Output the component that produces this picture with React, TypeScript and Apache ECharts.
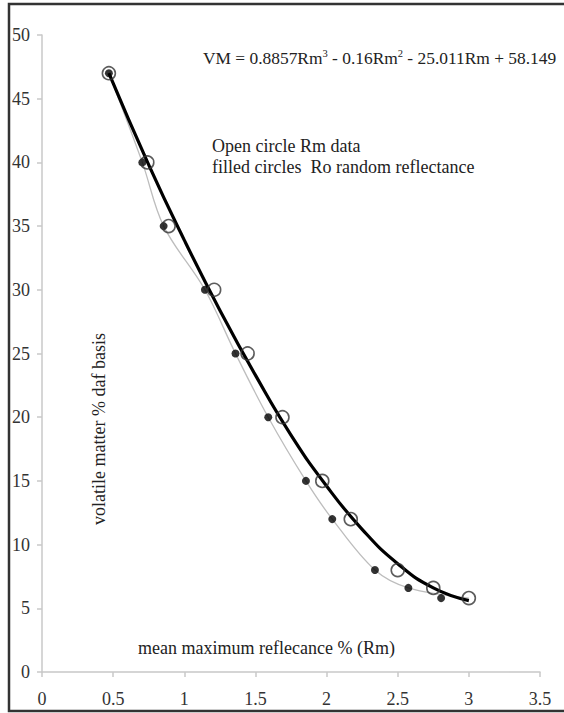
import React, { useEffect, useRef } from "react";
import * as echarts from "echarts";

// Open circles: Rm data (mean maximum reflectance)
const rmX = [0.47, 0.74, 0.89, 1.21, 1.445, 1.69, 1.97, 2.17, 2.5, 2.75, 3.0];
const rmY = [47, 40, 35, 30, 25, 20, 15, 12, 8, 6.6, 5.8];
// Filled circles: Ro random reflectance
const roX = [0.47, 0.705, 0.855, 1.145, 1.36, 1.59, 1.855, 2.04, 2.34, 2.575, 2.805];
const roY = [47, 40, 35, 30, 25, 20, 15, 12, 8, 6.6, 5.8];
// Thin grey smoothed line
const greyX = [0.47, 0.705, 0.855, 1.145, 1.36, 1.59, 1.855, 2.04, 2.34, 2.575, 3.0];
const greyY = [47, 40, 35, 30, 25, 20, 15, 12, 8, 6.6, 5.8];
// Thick black trend curve
const trendX = [0.47, 0.75, 1.0, 1.25, 1.5, 1.75, 2.0, 2.25, 2.5, 2.75, 3.0];
const trendY = [47, 39.8, 33.9, 28.4, 23.3, 18.6, 14.6, 11.2, 8.5, 6.6, 5.6];

const xTicks = ["0", "0.5", "1", "1.5", "2", "2.5", "3", "3.5"];

const FONT = "'Liberation Serif', 'Times New Roman', serif";
const FS = 18;

const zip = (xs: number[], ys: number[]) => xs.map((x, i) => [x, ys[i]]);

export default function App() {
  const ref = useRef<HTMLDivElement>(null);
  useEffect(() => {
    if (!ref.current) return;
    const chart = echarts.init(ref.current, undefined, { renderer: "svg" });
    chart.setOption({
      animation: false,
      backgroundColor: "#ffffff",
      grid: { left: 42, right: 24, top: 35, bottom: 41 },
      xAxis: {
        type: "value",
        min: 0,
        max: 3.5,
        interval: 0.5,
        axisLine: { show: true, lineStyle: { color: "#c8c8c8", width: 1.5 } },
        axisTick: { show: true, length: 5, lineStyle: { color: "#c8c8c8", width: 1.5 } },
        splitLine: { show: false },
        axisLabel: {
          color: "#333",
          fontFamily: FONT,
          fontSize: FS,
          margin: 18,
          formatter: (v: number) => {
            const i = Math.round(v / 0.5);
            return xTicks[i] ?? String(v);
          },
        },
      },
      yAxis: {
        type: "value",
        min: 0,
        max: 50,
        interval: 5,
        axisLine: { show: true, lineStyle: { color: "#c8c8c8", width: 1.5 } },
        axisTick: { show: true, length: 5, lineStyle: { color: "#c8c8c8", width: 1.5 } },
        splitLine: { show: false },
        axisLabel: { color: "#333", fontFamily: FONT, fontSize: FS, margin: 12 },
      },
      series: [
        {
          type: "line",
          data: zip(greyX, greyY),
          smooth: 0.35,
          symbol: "none",
          lineStyle: { color: "#bdbdbd", width: 1.3 },
          z: 1,
        },
        {
          type: "line",
          data: zip(trendX, trendY),
          smooth: true,
          symbol: "none",
          lineStyle: { color: "#000", width: 3.2 },
          z: 2,
        },
        {
          type: "scatter",
          data: zip(roX, roY),
          symbol: "circle",
          symbolSize: 8,
          itemStyle: { color: "#000" },
          z: 3,
        },
        {
          type: "scatter",
          data: zip(rmX, rmY),
          symbol: "circle",
          symbolSize: 13,
          itemStyle: { color: "rgba(0,0,0,0)", borderColor: "#333", borderWidth: 1.6 },
          z: 4,
        },
      ],
      graphic: [
        {
          type: "rect",
          shape: { x: 9, y: 4, width: 600, height: 707 },
          style: { fill: "none", stroke: "#333", lineWidth: 2.5 },
          silent: true,
        },
        {
          type: "text",
          x: 203,
          y: 58,
          style: {
            text: "{m|VM = 0.8857Rm}{s|3}{m| - 0.16Rm}{s|2}{m| - 25.011Rm + 58.149}",
            fill: "#222",
            verticalAlign: "middle",
            rich: {
              m: { fontFamily: FONT, fontSize: 17.4, fill: "#222", lineHeight: 21 },
              s: { fontFamily: FONT, fontSize: 10.5, fill: "#222", verticalAlign: "top", lineHeight: 21 },
            },
          },
        },
        {
          type: "text",
          x: 212,
          y: 146,
          style: {
            text: "Open circle Rm data",
            font: `${FS}px ${FONT}`,
            fill: "#222",
            verticalAlign: "middle",
          },
        },
        {
          type: "text",
          x: 212,
          y: 167,
          style: {
            text: "filled circles  Ro random reflectance",
            font: `${FS}px ${FONT}`,
            fill: "#222",
            verticalAlign: "middle",
          },
        },
        {
          type: "text",
          x: 138,
          y: 648,
          style: {
            text: "mean maximum reflecance % (Rm)",
            font: `${FS}px ${FONT}`,
            fill: "#222",
            verticalAlign: "middle",
          },
        },
        {
          type: "text",
          x: 99,
          y: 333,
          rotation: Math.PI / 2,
          style: {
            text: "volatile matter % daf basis",
            font: `${FS}px ${FONT}`,
            fill: "#222",
            align: "right",
            verticalAlign: "middle",
          },
        },
      ],
    });
    return () => chart.dispose();
  }, []);
  return (
    <div
      ref={ref}
      style={{ position: "absolute", left: 0, top: 0, width: 564, height: 713, background: "#fff" }}
    />
  );
}
